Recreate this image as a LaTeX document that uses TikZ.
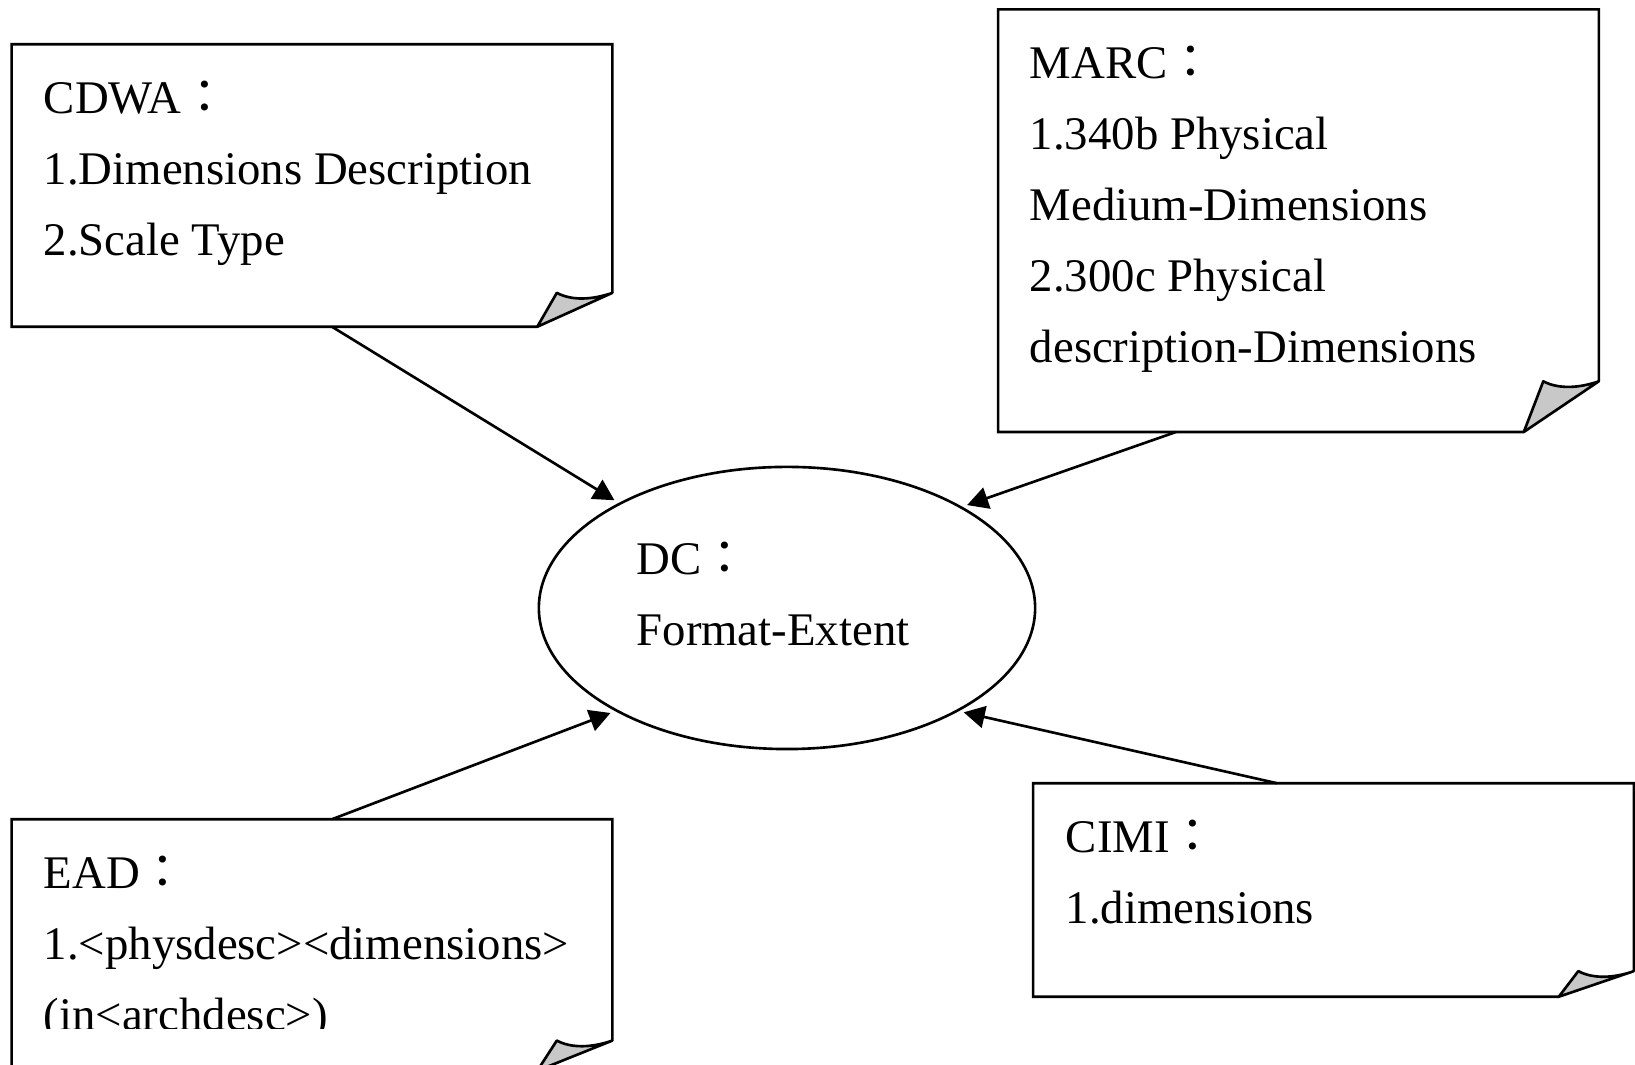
\documentclass[tikz,border=0pt]{standalone}
\usepackage{fontspec}
\setmainfont{Liberation Serif}
\newfontfamily\cjk{Noto Sans CJK TC}
\usepackage{tikz}
\usetikzlibrary{shapes, arrows.meta}
\usetikzlibrary{positioning, calc}
\definecolor{curlgray}{RGB}{200, 200, 200}
\newcommand{\fcolon}{{\cjk ：}}
\tikzstyle{note} = [rectangle, minimum width = 5.99cm, inner sep = 0]
\tikzstyle{notetext} = [
  inner sep = 0, align = left, text = black,
  font = \fontsize{13.3}{20.2}\selectfont
]
\tikzstyle{dc} = [ellipse, draw = black, line width = 0.75pt,
  minimum width = 4.96cm, minimum height = 2.82cm]
\tikzstyle{link} = [->, line width = 0.75pt, shorten > = 0.05cm]

% note with a curled lower right corner
\newcommand{\curlnote}[1]{
  \coordinate (#1-t) at ($(#1.south east)!0.125!(#1.south west)$);
  \coordinate (#1-r) at ($(#1.south east)!0.12!(#1.north east)$);
  \coordinate (#1-p) at ($(#1-t)!0.26!(#1-r)$);
  \draw [line width = 0.75pt] (#1-t) -- (#1.south west) -- (#1.north west)
    -- (#1.north east) -- (#1-r);
  \draw [line width = 0.75pt, fill = curlgray, line join = round]
    (#1-t) -- (#1-p |- #1-r)
    .. controls +(0.15cm, -0.08cm) and +(-0.2cm, -0.07cm) .. (#1-r) -- cycle;
}

\begin{document}
\begin{tikzpicture}[x = 0.01cm, y = -0.01cm,
    >={Triangle[length = 0.21cm, width = 0.22cm]}]
      \useasboundingbox (0, 0) rectangle (1635, 1065);
      \node [note, minimum height = 2.81cm] (cdwa) at (312, 185.5) {};
      \node [note, minimum height = 4.21cm] (marc) at (1298.5, 220.7) {};
      \node [note, minimum height = 2.5cm] (ead) at (312, 945) {};
      \node [note, minimum height = 2.12cm] (cimi) at (1333.5, 890) {};
      \node [dc] (dc) at (787, 608) {};

      \curlnote{cdwa}
      \curlnote{marc}
      \curlnote{ead}
      \curlnote{cimi}

      \node [notetext, below right = 0.36cm and 0.315cm of cdwa.north west]
        (cdwa-text) {CDWA\fcolon\\1.Dimensions Description\\2.Scale Type};
      \node [notetext, below right = 0.355cm and 0.31cm of marc.north west]
        (marc-text) {MARC\fcolon\\1.340b Physical\\Medium-Dimensions\\
        2.300c Physical\\description-Dimensions};
      \begin{scope}
        \clip (0, 0) rectangle (1635, 1029);
        \node [notetext, below right = 0.36cm and 0.315cm of ead.north west]
          (ead-text) {EAD\fcolon\\1.<physdesc><dimensions>\\(in<archdesc>)};
      \end{scope}
      \node [notetext, below right = 0.356cm and 0.32cm of cimi.north west]
        (cimi-text) {CIMI\fcolon\\1.dimensions};
      \node [notetext, anchor = north west] (dc-text)
        at ([xshift = -1.51cm, yshift = 0.67cm] dc.center)
        {DC\fcolon\\Format-Extent};

      \draw [link] ([xshift = 0.2cm] cdwa.south) -- (dc.148);
      \draw [link] ([xshift = -1.225cm] marc.south) -- (dc.30);
      \draw [link] ([xshift = 0.2cm] ead.north) -- (dc.211);
      \draw [link] ([xshift = -0.565cm] cimi.north) -- (dc.329);
    \end{tikzpicture}
\end{document}
